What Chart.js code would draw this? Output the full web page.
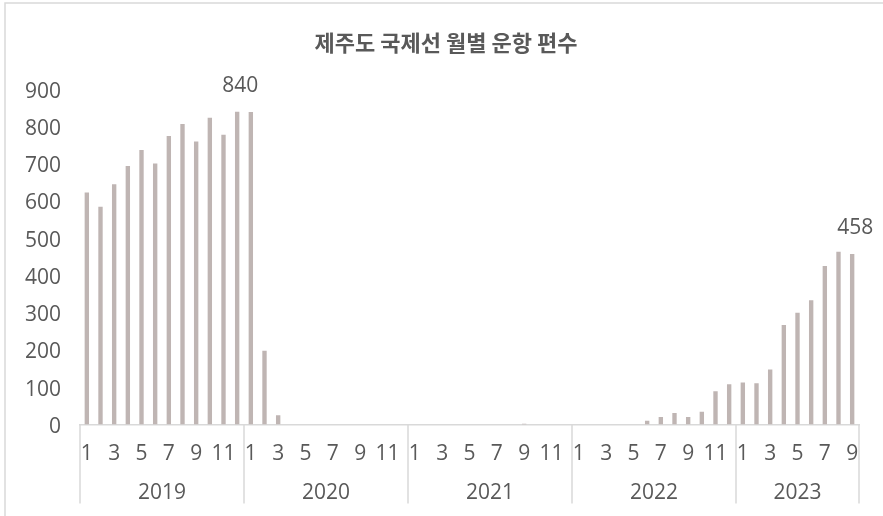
<!DOCTYPE html>
<html>
<head>
<meta charset="utf-8">
<script src="https://cdn.jsdelivr.net/npm/chart.js@4"></script>
<style>
  html, body { margin: 0; padding: 0; background: #ffffff; }
  #wrap { position: relative; width: 883px; height: 516px; }
</style>
</head>
<body>
<div id="wrap"><canvas id="c" width="883" height="516"></canvas></div>
<script>
// ---- data ----
const years = ['2019', '2020', '2021', '2022', '2023'];
const v2019 = [623, 585, 645, 694, 737, 701, 775, 807, 760, 824, 778, 840];
const v2020 = [839, 198, 25, 0, 0, 0, 0, 0, 0, 0, 0, 0];
const v2021 = [0, 0, 0, 0, 0, 0, 0, 0, 2, 0, 0, 0];
const v2022 = [0, 0, 0, 0, 0, 10, 20, 31, 20, 34, 89, 108];
const v2023 = [113, 111, 148, 267, 300, 334, 426, 464, 458];
const yTicks = [0, 100, 200, 300, 400, 500, 600, 700, 800, 900];
const labelledIdx = [11, 56];
const titleText = '제주도 국제선 월별 운항 편수';

const perYear = [v2019, v2020, v2021, v2022, v2023];
const labels = [];
const values = [];
const groups = [];
perYear.forEach((arr, yi) => {
  const start = labels.length;
  arr.forEach((v, mi) => { labels.push(String(mi + 1)); values.push(v); });
  groups.push({ year: years[yi], start: start, end: labels.length - 1 });
});

const TEXT = '#595959';
const LINE = '#d9d9d9';
const FONT = "'Open Sans', 'Noto Sans', sans-serif";

const framePlugin = {
  id: 'frame',
  beforeDraw(chart) {
    const ctx = chart.ctx;
    ctx.save();
    ctx.fillStyle = '#ffffff';
    ctx.fillRect(0, 0, chart.width, chart.height);
    ctx.strokeStyle = LINE;
    ctx.lineWidth = 1.5;
    ctx.strokeRect(5, 3, chart.width + 20, chart.height + 20);
    // title
    ctx.fillStyle = TEXT;
    ctx.font = "bold 22px 'Noto Sans CJK KR', sans-serif";
    ctx.textAlign = 'center';
    ctx.textBaseline = 'middle';
    ctx.fillText(titleText, 446, 43);
    ctx.restore();
  }
};

const groupAxisPlugin = {
  id: 'groupAxis',
  afterDraw(chart) {
    const ctx = chart.ctx;
    const x = chart.scales.x;
    const area = chart.chartArea;
    const step = x.getPixelForValue(1) - x.getPixelForValue(0);
    ctx.save();
    ctx.strokeStyle = LINE;
    ctx.lineWidth = 1.5;
    ctx.fillStyle = TEXT;
    ctx.font = '21px ' + FONT;
    ctx.textAlign = 'center';
    ctx.textBaseline = 'middle';
    const drawDiv = (px) => {
      ctx.beginPath();
      ctx.moveTo(px, area.bottom);
      ctx.lineTo(px, area.bottom + 79);
      ctx.stroke();
    };
    groups.forEach((g, i) => {
      const left = x.getPixelForValue(g.start) - step / 2;
      const right = x.getPixelForValue(g.end) + step / 2;
      drawDiv(left);
      if (i === groups.length - 1) drawDiv(right);
      ctx.fillText(g.year, (left + right) / 2, area.bottom + 69);
    });
    // value labels
    const meta = chart.getDatasetMeta(0);
    labelledIdx.forEach((idx) => {
      const el = meta.data[idx];
      ctx.fillText(String(values[idx]), el.x + 3, el.y - 26);
    });
    ctx.restore();
  }
};

new Chart(document.getElementById('c'), {
  type: 'bar',
  data: {
    labels: labels,
    datasets: [{
      data: values,
      backgroundColor: '#bfb5b3',
      borderWidth: 0,
      categoryPercentage: 1.0,
      barPercentage: 0.32
    }]
  },
  options: {
    responsive: false,
    animation: false,
    devicePixelRatio: 1,
    layout: { padding: { left: 0, right: 24, top: 89.4, bottom: 0 } },
    plugins: {
      legend: { display: false },
      tooltip: { enabled: false },
      title: { display: false }
    },
    scales: {
      x: {
        grid: { display: false, drawTicks: false },
        border: { display: true, color: LINE, width: 1.5 },
        ticks: {
          autoSkip: false,
          maxRotation: 0,
          minRotation: 0,
          color: TEXT,
          font: { family: FONT, size: 21 },
          padding: 17,
          callback: function (val, idx) {
            const m = Number(labels[idx]);
            return m % 2 === 1 ? labels[idx] : '';
          }
        },
        afterFit(scale) { scale.height = 91.5; }
      },
      y: {
        min: 0,
        max: 900,
        afterBuildTicks(scale) { scale.ticks = yTicks.map(v => ({ value: v })); },
        grid: { display: false, drawTicks: false },
        border: { display: false },
        ticks: {
          color: TEXT,
          font: { family: FONT, size: 21, lineHeight: 0.22 },
          padding: 19,
          callback: function (val) { return ['', String(val)]; }
        },
        afterFit(scale) { scale.width = 80; }
      }
    }
  },
  plugins: [framePlugin, groupAxisPlugin]
});
</script>
</body>
</html>
